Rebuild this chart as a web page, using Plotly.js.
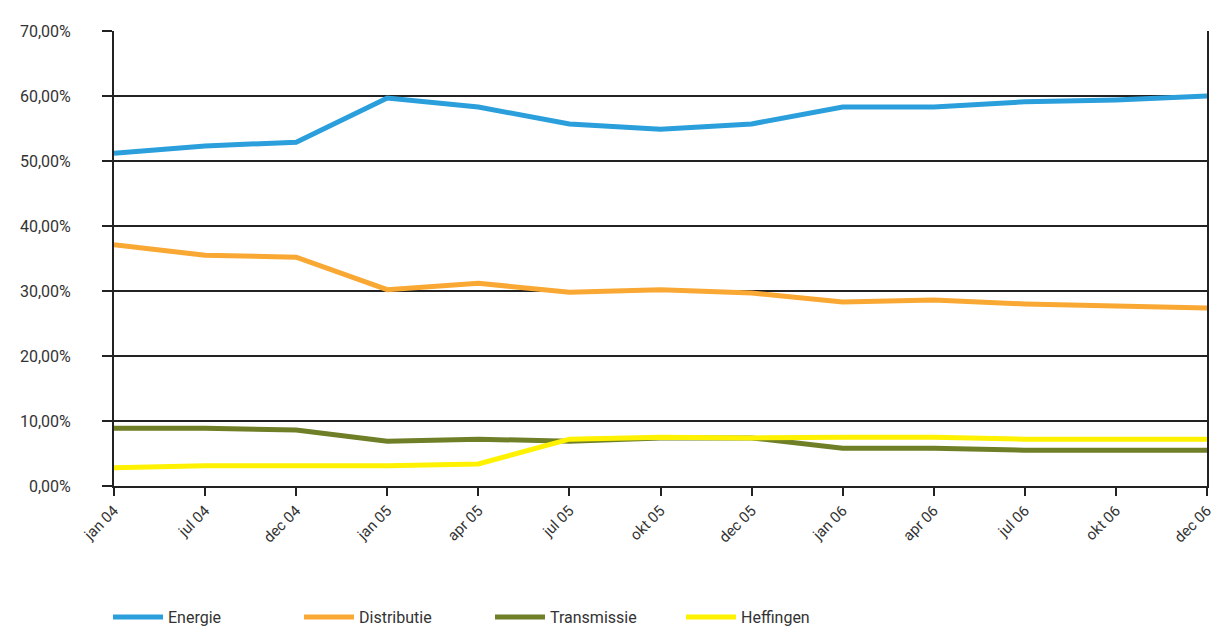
<!DOCTYPE html>
<html>
<head>
<meta charset="utf-8">
<script src="https://cdn.plot.ly/plotly-3.0.1.min.js"></script>
<style>html,body{margin:0;padding:0;background:#fff;}#chart{width:1211px;height:631px;}</style>
</head>
<body>
<div id="chart"></div>
<script>
var categories = ["jan 04","jul 04","dec 04","jan 05","apr 05","jul 05","okt 05","dec 05","jan 06","apr 06","jul 06","okt 06","dec 06"];
var energie = [51.2,52.3,52.9,59.7,58.3,55.7,54.9,55.7,58.3,58.3,59.1,59.4,60.0];
var distributie = [37.1,35.5,35.2,30.2,31.2,29.8,30.2,29.7,28.3,28.6,28.0,27.7,27.4];
var transmissie = [8.9,8.9,8.6,6.9,7.2,6.9,7.4,7.4,5.8,5.8,5.5,5.5,5.5];
var heffingen = [2.8,3.1,3.1,3.1,3.4,7.2,7.5,7.4,7.5,7.5,7.2,7.2,7.2];
var yTicks = [0,10,20,30,40,50,60,70];
var yTickText = yTicks.map(function(v){ return v.toFixed(2).replace(".", ",") + "%"; });

var font = "Roboto, 'DejaVu Sans', sans-serif";
function tr(name, y, color){
  return {x: categories, y: y, name: name, type: "scatter", mode: "lines",
    line: {color: color, width: 5}, hoverinfo: "skip"};
}
var data = [
  tr("Energie", energie, "#2a9fdb"),
  tr("Distributie", distributie, "#f9a833"),
  tr("Transmissie", transmissie, "#6f7f28"),
  tr("Heffingen", heffingen, "#fff200")
];
var layout = {
  width: 1211, height: 631,
  margin: {l: 114, r: 4, t: 31, b: 145},
  paper_bgcolor: "#fff", plot_bgcolor: "#fff",
  font: {family: font, size: 14, color: "#333"},
  showlegend: true,
  legend: {orientation: "h", xref: "container", yref: "container", x: 108/1211, xanchor: "left",
    y: 31/631, yanchor: "top",
    entrywidth: 126, entrywidthmode: "pixels", font: {family: font, size: 16, color: "#333"},
    itemwidth: 50, tracegroupgap: 0},
  xaxis: {type: "category", range: [0, 12], tickangle: -45, ticks: "outside", ticklen: 8, tickwidth: 2,
    tickcolor: "#222", showline: true, linecolor: "#222", linewidth: 2, showgrid: false, zeroline: false,
    automargin: false,
    tickfont: {family: font, size: 15, color: "#333"}, fixedrange: true},
  yaxis: {range: [0, 70], tickvals: yTicks, ticktext: yTickText, ticks: "outside",
    ticklen: 10, tickwidth: 2, tickcolor: "#222", showline: true, mirror: true, linecolor: "#222", linewidth: 2,
    showgrid: true, gridcolor: "#222", gridwidth: 1.6, zeroline: false, ticklabelstandoff: 28,
    automargin: false,
    tickfont: {family: font, size: 16, color: "#333"}, fixedrange: true}
};
Plotly.newPlot("chart", data, layout, {displayModeBar: false, staticPlot: true});
</script>
</body>
</html>
